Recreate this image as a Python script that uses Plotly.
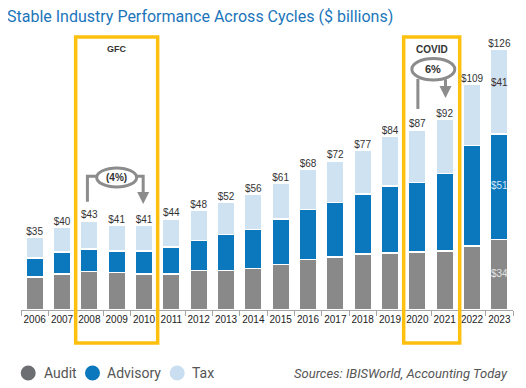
import plotly.graph_objects as go

years = ["2006", "2007", "2008", "2009", "2010", "2011", "2012", "2013", "2014",
         "2015", "2016", "2017", "2018", "2019", "2020", "2021", "2022", "2023"]
audit = [16, 17.5, 18.5, 18, 17.5, 17.5, 19, 19, 20, 22, 24.5, 25.5, 27, 27.5, 28, 28.5, 31, 34]
advisory = [9, 10.5, 11, 10.5, 11, 13, 14.5, 17.5, 19, 22, 24, 26.5, 29, 32.5, 33.5, 37.5, 48.5, 51]
tax = [10, 12, 13.5, 12.5, 12.5, 13.5, 14.5, 15.5, 17, 17, 19.5, 20, 21, 24, 25.5, 26, 29.5, 41]
totals = [a + b + c for a, b, c in zip(audit, advisory, tax)]
total_labels = ["$%d" % round(t) for t in totals]

C_AUDIT = "#898989"
C_ADV = "#0b77bc"
C_TAX = "#cfe2f2"
GRAY_LINE = "#8c8c8c"
YELLOW = "#fdc00f"

fig = go.Figure()
for name, vals, col in [("Audit", audit, C_AUDIT), ("Advisory", advisory, C_ADV), ("Tax", tax, C_TAX)]:
    fig.add_trace(go.Bar(
        x=years, y=vals, name=name, marker=dict(color=col, line=dict(color="white", width=1.5)),
        showlegend=False, hoverinfo="skip"))

fig.add_trace(go.Scatter(
    x=years, y=totals, mode="text", text=total_labels, textposition="top center",
    textfont=dict(size=10, color="#333333", family="Liberation Sans"),
    showlegend=False, cliponaxis=False, hoverinfo="skip"))

# segment value labels on the last bar (2023)
last = years[-1]
mids = [audit[-1] / 2, audit[-1] + advisory[-1] / 2, audit[-1] + advisory[-1] + tax[-1] * 0.6]
seg_vals = [audit[-1], advisory[-1], tax[-1]]
seg_cols = ["#e4e4e4", "#d4e6f5", "#3d2b2b"]
fig.add_trace(go.Scatter(
    x=[last] * 3, y=mids, mode="text", text=["$%d" % v for v in seg_vals],
    textposition="middle center",
    textfont=dict(size=10, color=seg_cols, family="Liberation Sans"),
    showlegend=False, cliponaxis=False, hoverinfo="skip"))

shapes = []
annotations = []

# Highlight boxes (GFC, COVID)
for x0, x1 in [(1.5, 4.5), (13.5, 15.55)]:
    shapes.append(dict(type="rect", xref="x", yref="paper", x0=x0, x1=x1, y0=-0.122, y1=1.011,
                       line=dict(color=YELLOW, width=3.5), layer="above"))
annotations.append(dict(x=3, y=0.966, xref="x", yref="paper", yanchor="middle", text="<b>GFC</b>",
                        showarrow=False, font=dict(size=9, color="#333", family="Liberation Sans")))
annotations.append(dict(x=14.55, y=0.966, xref="x", yref="paper", yanchor="middle", text="<b>COVID</b>",
                        showarrow=False, font=dict(size=10, color="#333", family="Liberation Sans")))

# GFC bracket
shapes.append(dict(type="circle", xref="x", yref="y", x0=2.27, x1=3.73, y0=59.4, y1=68.6,
                   line=dict(color=GRAY_LINE, width=3)))
shapes.append(dict(type="path", xref="x", yref="y",
                   path="M 1.93 52.3 L 1.93 64.6 L 2.3 64.6", line=dict(color=GRAY_LINE, width=3)))
shapes.append(dict(type="path", xref="x", yref="y",
                   path="M 3.7 64.6 L 3.97 64.6 L 3.97 56", line=dict(color=GRAY_LINE, width=3)))
annotations.append(dict(x=3.97, y=51.2, ax=3.97, ay=57, xref="x", yref="y", axref="x", ayref="y",
                        showarrow=True, arrowhead=2, arrowsize=1.2, arrowwidth=2, arrowcolor=GRAY_LINE, text=""))
annotations.append(dict(x=3, y=64, xref="x", yref="y", text="<b>(4%)</b>", showarrow=False,
                        font=dict(size=10, color="#333", family="Liberation Sans")))

# COVID bracket
shapes.append(dict(type="circle", xref="x", yref="y", x0=13.8, x1=15.37, y0=111.1, y1=121.5,
                   line=dict(color=GRAY_LINE, width=3)))
shapes.append(dict(type="path", xref="x", yref="y",
                   path="M 14.02 97.1 L 14.02 111.6", line=dict(color=GRAY_LINE, width=3)))
shapes.append(dict(type="path", xref="x", yref="y",
                   path="M 15.03 111.4 L 15.03 106.5", line=dict(color=GRAY_LINE, width=3)))
annotations.append(dict(x=15.03, y=102.4, ax=15.03, ay=107.5, xref="x", yref="y", axref="x", ayref="y",
                        showarrow=True, arrowhead=2, arrowsize=1.2, arrowwidth=2, arrowcolor=GRAY_LINE, text=""))
annotations.append(dict(x=14.58, y=116.3, xref="x", yref="y", text="<b>6%</b>", showarrow=False,
                        font=dict(size=11, color="#333", family="Liberation Sans")))

# Legend (positions in page pixels; the page adds an 8px body margin)
OFF = 8
PL, PW = 21, 492
legend_items = [("Audit", "#6d6e71", 28.2, 41.5), ("Advisory", "#0b77bc", 92.5, 105),
                ("Tax", "#c9def0", 177.2, 190)]
LY = (310 - 373) / 270
for label, col, cx, tx in legend_items:
    shapes.append(dict(type="circle", xref="paper", yref="paper", xsizemode="pixel", ysizemode="pixel",
                       xanchor=(cx - PL) / PW, yanchor=LY, x0=-7.5, x1=7.5, y0=-7.5, y1=7.5,
                       fillcolor=col, line=dict(width=0)))
    annotations.append(dict(x=(tx - PL) / PW, y=LY, xref="paper", yref="paper", text=label,
                            showarrow=False, xanchor="left", yanchor="middle",
                            font=dict(size=14, color="#555555", family="Roboto")))
annotations.append(dict(x=(510 - PL) / PW, y=LY, xref="paper", yref="paper",
                        text="<i>Sources: IBISWorld, Accounting Today</i>", showarrow=False,
                        xanchor="right", yanchor="middle",
                        font=dict(size=13, color="#555555", family="Roboto")))
annotations.append(dict(x=(5 - PL) / PW, y=(310 - 16) / 270, xref="paper", yref="paper",
                        text="Stable Industry Performance Across Cycles ($ billions)", showarrow=False,
                        xanchor="left", yanchor="middle",
                        font=dict(size=16, color="#1b75bb", family="Roboto")))

fig.update_layout(
    width=526 - OFF, height=388 - OFF,
    margin=dict(l=PL - OFF, r=526 - (PL + PW), t=40 - OFF, b=388 - 310, autoexpand=False),
    paper_bgcolor="white", plot_bgcolor="white",
    barmode="stack", bargap=0.37,
    xaxis=dict(type="category", range=[-0.5, 17.5], showline=True, linecolor="#a6a6a6", linewidth=1,
               ticks="outside", tickson="boundaries", ticklen=5, tickcolor="#a6a6a6", tickangle=0,
               automargin=False,
               tickfont=dict(size=10, color="#222222", family="Liberation Sans"), showgrid=False),
    yaxis=dict(range=[0, 130.4], visible=False, showgrid=False, automargin=False),
    shapes=shapes, annotations=annotations,
)

fig.write_html("out.html")
